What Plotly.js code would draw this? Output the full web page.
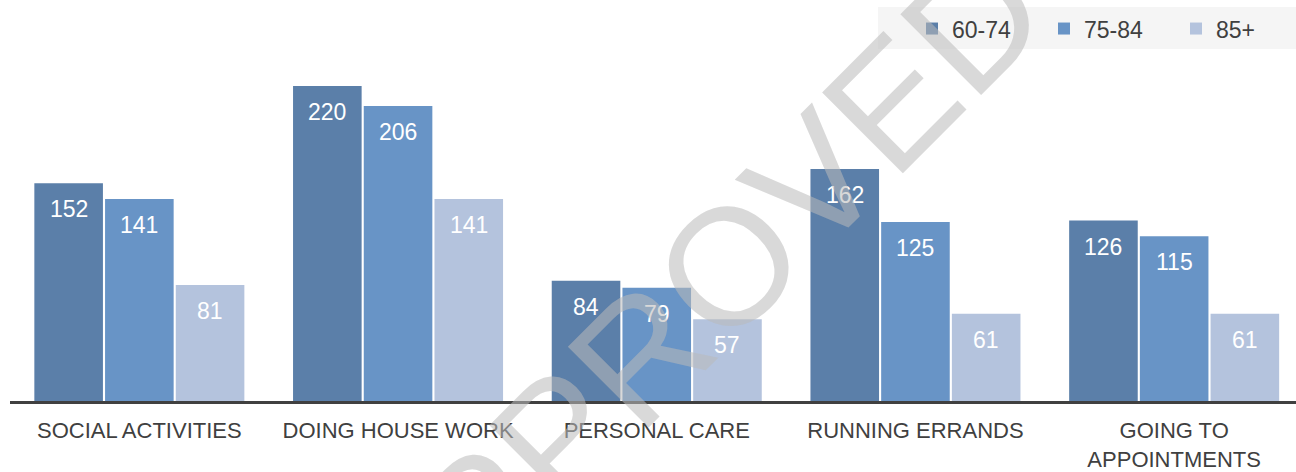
<!DOCTYPE html>
<html>
<head>
<meta charset="utf-8">
<script src="https://cdn.plot.ly/plotly-3.0.1.min.js"></script>
<style>html,body{margin:0;padding:0;background:#fff;}#chart{width:1296px;height:472px;}</style>
</head>
<body>
<div id="chart"></div>
<script>
var categories = ["SOCIAL ACTIVITIES", "DOING HOUSE WORK", "PERSONAL CARE", "RUNNING ERRANDS", "GOING TO<br>APPOINTMENTS"];
var seriesNames = ["60-74", "75-84", "85+"];
var age60_74 = [152, 220, 84, 162, 126];
var age75_84 = [141, 206, 79, 125, 115];
var age85plus = [81, 141, 57, 61, 61];
var watermark = "APPROVED";

var seriesValues = [age60_74, age75_84, age85plus];
var colors = ["#5B7FA9", "#6894C6", "#B4C3DD"];

var traces = seriesValues.map(function (vals, i) {
  return {
    type: "bar",
    name: seriesNames[i],
    x: categories,
    y: vals,
    marker: {color: colors[i], line: {width: 0}},
    hoverinfo: "none"
  };
});

var groupPx = 258.7;
var slotPx = groupPx * 0.82 / 3;
var annotations = [];
seriesValues.forEach(function (vals, i) {
  vals.forEach(function (v, j) {
    annotations.push({
      x: categories[j], y: v, xref: "x", yref: "y",
      text: String(v), showarrow: false,
      xshift: (i - 1) * slotPx, yshift: -26,
      font: {family: "Liberation Sans, Arial, sans-serif", size: 23, color: "#FFFFFF"}
    });
  });
});
annotations.push({
  xref: "paper", yref: "paper", x: 0.528, y: 0.2815,
  xanchor: "center", yanchor: "middle",
  text: watermark, showarrow: false, textangle: -45,
  font: {family: "Liberation Sans, Arial, sans-serif", size: 166, color: "rgba(186,186,186,0.55)"}
});

var layout = {
  width: 1296, height: 472,
  margin: {l: 10, r: 0, t: 60, b: 71},
  paper_bgcolor: "#FFFFFF", plot_bgcolor: "#FFFFFF",
  barmode: "group", bargap: 0.18, bargroupgap: 0.03,
  font: {family: "Liberation Sans, Arial, sans-serif", size: 22, color: "#404040"},
  xaxis: {
    range: [-0.5, 4.471], showgrid: false, zeroline: false,
    showline: true, linecolor: "#404040", linewidth: 3,
    ticks: "", ticklabelstandoff: 8,
    tickfont: {size: 22, color: "#404040"}, fixedrange: true
  },
  yaxis: {range: [0, 238.1], visible: false, fixedrange: true},
  showlegend: true,
  legend: {
    orientation: "h", xref: "container", yref: "container",
    x: 0.7037, y: 0.985, xanchor: "left", yanchor: "top",
    bgcolor: "rgba(0,0,0,0)", font: {size: 23, color: "#404040"},
    entrywidth: 87, traceorder: "normal"
  },
  shapes: [{
    type: "rect", xref: "paper", yref: "paper", layer: "below",
    x0: 0.675, x1: 1.0, y0: 1.0323, y1: 1.1554,
    fillcolor: "#F5F5F5", line: {width: 0}
  }],
  annotations: annotations
};

Plotly.newPlot("chart", traces, layout, {displayModeBar: false, staticPlot: true});
</script>
</body>
</html>
